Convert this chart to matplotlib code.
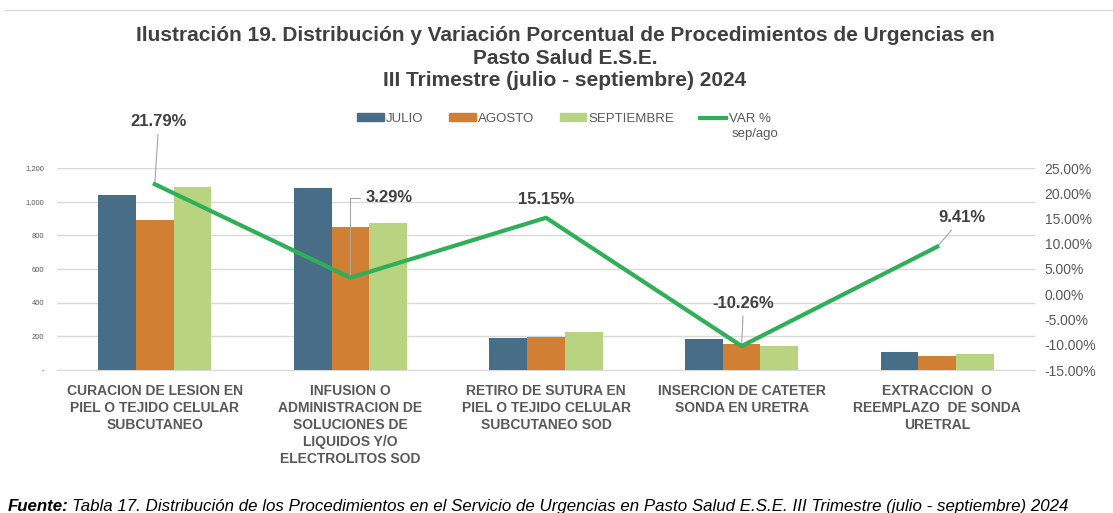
import matplotlib
matplotlib.use("Agg")
import matplotlib.pyplot as plt
import numpy as np
from matplotlib.ticker import FuncFormatter, FixedLocator
from matplotlib.lines import Line2D
from matplotlib.patches import Patch

plt.rcParams['font.family'] = ['Liberation Sans', 'DejaVu Sans']

categories = [
    "CURACION DE LESION EN\nPIEL O TEJIDO CELULAR\nSUBCUTANEO",
    "INFUSION O\nADMINISTRACION DE\nSOLUCIONES DE\nLIQUIDOS Y/O\nELECTROLITOS SOD",
    "RETIRO DE SUTURA EN\nPIEL O TEJIDO CELULAR\nSUBCUTANEO SOD",
    "INSERCION DE CATETER\nSONDA EN URETRA",
    "EXTRACCION  O\nREEMPLAZO  DE SONDA\nURETRAL",
]
julio = [1042, 1083, 188, 184, 107]
agosto = [893, 847, 196, 156, 85]
septiembre = [1088, 875, 226, 140, 93]
var_pct = [0.2179, 0.0329, 0.1515, -0.1026, 0.0941]
var_labels = ["21.79%", "3.29%", "15.15%", "-10.26%", "9.41%"]
series_names = ["JULIO", "AGOSTO", "SEPTIEMBRE", "VAR %"]

c_jul = '#476E86'
c_ago = '#D17F32'
c_sep = '#B9D480'
c_var = '#2FAF58'
grid_c = '#D9D9D9'
txt_c = '#595959'
dark = '#404040'

W, H = 1113, 513
fig = plt.figure(figsize=(W / 100, H / 100), dpi=100)

# chart border top line
fig.add_artist(Line2D([5 / W, 1.0], [1 - 10 / H, 1 - 10 / H], color='#D9D9D9', lw=1))

ax = fig.add_axes([57 / W, (H - 370) / H, 978 / W, 202 / H])
x = np.arange(len(categories))
bw = 0.193
ax.bar(x - bw, julio, bw, color=c_jul, zorder=3)
ax.bar(x, agosto, bw, color=c_ago, zorder=3)
ax.bar(x + bw, septiembre, bw, color=c_sep, zorder=3)
ax.set_xlim(-0.5, len(categories) - 0.5)
ax.set_ylim(0, 1200)
ax.yaxis.set_major_locator(FixedLocator(np.arange(0, 1201, 200)))
ax.yaxis.set_major_formatter(FuncFormatter(lambda v, p: '-' if v == 0 else f'{int(v):,}'))
ax.tick_params(axis='y', labelsize=5.5, labelcolor=txt_c, length=0, pad=9)
ax.grid(axis='y', color=grid_c, lw=1, zorder=0)
for s in ['top', 'right', 'left']:
    ax.spines[s].set_visible(False)
ax.spines['bottom'].set_color(grid_c)
ax.set_xticks([])
for xi, lab in zip(x, categories):
    ax.text(xi, -0.07, lab, transform=ax.get_xaxis_transform(), ha='center', va='top',
            multialignment='center', fontsize=10, fontweight='bold', color=txt_c,
            linespacing=1.26)

ax2 = ax.twinx()
ax2.plot(x, var_pct, color=c_var, lw=3, zorder=5)
ax2.set_ylim(-0.15, 0.25)
ax2.yaxis.set_major_locator(FixedLocator(np.arange(-0.15, 0.2501, 0.05)))
ax2.yaxis.set_major_formatter(FuncFormatter(lambda v, p: f'{v * 100:.2f}%'))
ax2.tick_params(axis='y', labelsize=10, labelcolor=txt_c, length=0, pad=7)
for s in ax2.spines.values():
    s.set_visible(False)

offsets = [(4, 63), (39, 80), (0, 18), (2, 43), (25, 29)]
for xi, v, lab, off in zip(x, var_pct, var_labels, offsets):
    if lab == "15.15%":
        ax2.annotate(lab, xy=(xi, v), xytext=off, textcoords='offset pixels',
                     ha='center', va='center', fontsize=12, fontweight='bold', color=dark)
    elif lab == "3.29%":
        ax2.annotate(lab, xy=(xi, v), xytext=off, textcoords='offset pixels',
                     ha='center', va='center', fontsize=12, fontweight='bold', color=dark,
                     arrowprops=dict(arrowstyle='-', color='#A6A6A6', lw=0.8,
                                     connectionstyle='angle,angleA=0,angleB=90,rad=0',
                                     shrinkA=2, shrinkB=0))
    else:
        ax2.annotate(lab, xy=(xi, v), xytext=off, textcoords='offset pixels',
                     ha='center', va='center', fontsize=12, fontweight='bold', color=dark,
                     arrowprops=dict(arrowstyle='-', color='#A6A6A6', lw=0.8,
                                     shrinkA=2, shrinkB=0))

fig.text(565 / W, 1 - 58 / H,
         "Ilustración 19. Distribución y Variación Porcentual de Procedimientos de Urgencias en\n"
         "Pasto Salud E.S.E.\nIII Trimestre (julio - septiembre) 2024",
         ha='center', va='center', fontsize=15, fontweight='bold', color=dark,
         linespacing=1.25)

handles = [Patch(color=c_jul), Patch(color=c_ago), Patch(color=c_sep),
           Line2D([0], [0], color=c_var, lw=3)]
leg = fig.legend(handles, series_names, loc='center', bbox_to_anchor=(564 / W, 1 - 119 / H),
                 ncol=4, frameon=False, fontsize=9.5, handlelength=2.0, handleheight=0.55,
                 columnspacing=1.92, handletextpad=0.2, labelcolor=txt_c)

fig.canvas.draw()
r = fig.canvas.get_renderer()
bb = leg.get_texts()[-1].get_window_extent(r)
fig.text((bb.x0 + 3) / W, (bb.y0 - 3) / H, "sep/ago", ha='left', va='top',
         fontsize=9.5, color=txt_c)

t1 = fig.text(8 / W, 1 - 511 / H, "Fuente:", ha='left', va='baseline', fontsize=12.2,
              fontweight='bold', fontstyle='italic', color='black')
fig.canvas.draw()
bb1 = t1.get_window_extent(r)
fig.text((bb1.x1 + 3) / W, 1 - 511 / H,
         "Tabla 17. Distribución de los Procedimientos en el Servicio de Urgencias en Pasto Salud E.S.E. III Trimestre (julio - septiembre) 2024",
         ha='left', va='baseline', fontsize=12.2, fontstyle='italic', color='black')

fig.savefig("out.png", dpi=100)
